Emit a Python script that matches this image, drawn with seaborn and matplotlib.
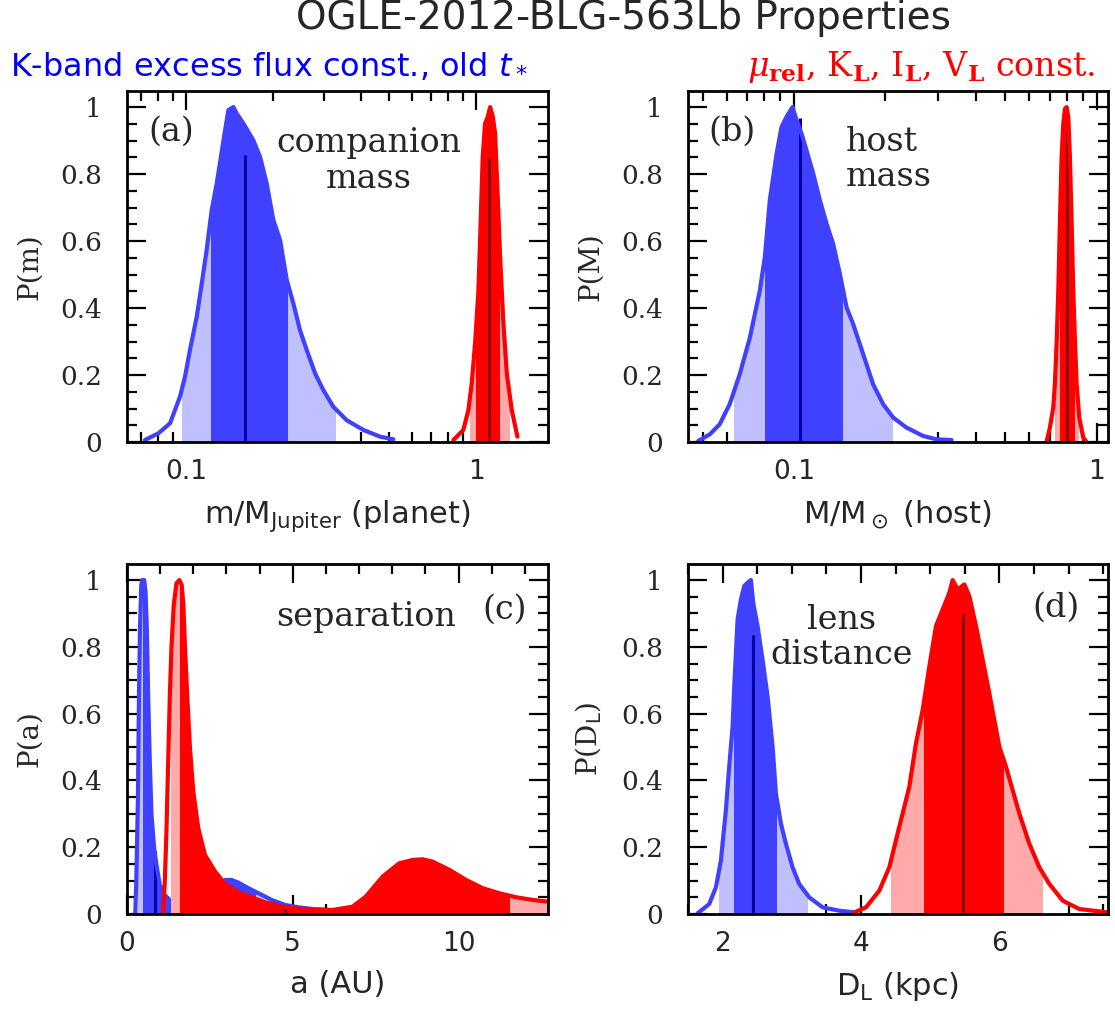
import matplotlib
matplotlib.use("Agg")
import matplotlib.pyplot as plt
import matplotlib.ticker as mticker
from matplotlib.patches import Rectangle
import pandas as pd
import seaborn as sns

# ---- panel (a): companion mass, m / M_Jupiter ----
a_blue_x = [0.0722, 0.0803, 0.0881, 0.0953, 0.0992, 0.1032, 0.1089, 0.1133, 0.1178,
            0.1226, 0.1276, 0.1309, 0.1344, 0.1400, 0.1457, 0.1495, 0.1577, 0.1706,
            0.1799, 0.1897, 0.2000, 0.2110, 0.2225, 0.2344, 0.2471, 0.2606, 0.2786,
            0.2974, 0.3221, 0.3581, 0.4086, 0.4664, 0.5185]
a_blue_y = [0.006, 0.026, 0.056, 0.135, 0.195, 0.275, 0.374, 0.473, 0.573, 0.692,
            0.772, 0.832, 0.897, 0.991, 1.0, 0.981, 0.951, 0.901, 0.852, 0.772,
            0.663, 0.603, 0.484, 0.414, 0.334, 0.275, 0.205, 0.155, 0.105, 0.065,
            0.036, 0.016, 0.008]
a_red_x = [0.835, 0.904, 0.941, 0.966, 0.992, 1.019, 1.032, 1.054, 1.074, 1.097,
           1.118, 1.142, 1.163, 1.185, 1.210, 1.242, 1.276, 1.327, 1.388]
a_red_y = [0.006, 0.036, 0.096, 0.175, 0.295, 0.454, 0.603, 0.852, 0.951, 0.971,
           1.0, 0.971, 0.921, 0.752, 0.553, 0.354, 0.205, 0.096, 0.016]

# ---- panel (b): host mass, M / M_sun ----
b_blue_x = [0.0483, 0.0528, 0.0569, 0.0614, 0.0663, 0.0716, 0.0772, 0.0802, 0.0833,
            0.0877, 0.0911, 0.0946, 0.0990, 0.1021, 0.1060, 0.1101, 0.1159, 0.1219,
            0.1282, 0.1348, 0.1419, 0.1493, 0.1570, 0.1652, 0.1738, 0.1828, 0.1972,
            0.2128, 0.2355, 0.2673, 0.2958, 0.3318]
b_blue_y = [0.003, 0.023, 0.053, 0.113, 0.203, 0.312, 0.452, 0.552, 0.722, 0.861,
            0.941, 0.971, 1.0, 0.961, 0.921, 0.871, 0.801, 0.722, 0.652, 0.592,
            0.502, 0.402, 0.352, 0.292, 0.232, 0.172, 0.113, 0.073, 0.043, 0.018,
            0.008, 0.006]
b_red_x = [0.684, 0.701, 0.719, 0.728, 0.738, 0.747, 0.756, 0.766, 0.776, 0.786,
           0.796, 0.806, 0.816, 0.827, 0.837, 0.848, 0.859, 0.876, 0.903, 0.922]
b_red_y = [0.003, 0.043, 0.103, 0.173, 0.302, 0.452, 0.651, 0.851, 0.951, 0.995,
           1.0, 0.970, 0.851, 0.651, 0.452, 0.302, 0.173, 0.073, 0.013, 0.003]

# ---- panel (c): separation, a (AU) ----
c_blue_x = [0.25, 0.28, 0.33, 0.36, 0.39, 0.43, 0.46, 0.52, 0.56, 0.60, 0.64, 0.69,
            0.74, 0.82, 0.89, 0.99, 1.14, 1.24, 1.32, 1.6, 2.0, 2.4, 2.76, 2.96,
            3.16, 3.36, 3.67, 3.97, 4.37, 4.78, 5.18, 5.69, 6.09, 7.0, 8.5, 10.0, 12.7]
c_blue_y = [0.002, 0.097, 0.347, 0.646, 0.846, 0.985, 1.0, 1.0, 0.965, 0.846, 0.646,
            0.446, 0.296, 0.196, 0.147, 0.087, 0.057, 0.047, 0.037, 0.030, 0.035,
            0.060, 0.092, 0.102, 0.102, 0.094, 0.077, 0.062, 0.042, 0.027, 0.020,
            0.014, 0.012, 0.008, 0.004, 0.002, 0.002]
c_red_x = [1.09, 1.14, 1.19, 1.24, 1.29, 1.34, 1.41, 1.49, 1.58, 1.65, 1.70, 1.75,
           1.82, 1.90, 2.00, 2.15, 2.35, 2.66, 2.96, 3.36, 4.17, 4.78, 5.18, 6.19,
           6.80, 7.20, 7.71, 8.21, 8.62, 8.92, 9.22, 9.73, 10.23, 10.74, 11.24,
           11.75, 12.25, 12.71]
c_red_y = [0.002, 0.097, 0.246, 0.446, 0.646, 0.796, 0.925, 0.990, 1.0, 0.985,
           0.925, 0.796, 0.646, 0.496, 0.366, 0.257, 0.177, 0.127, 0.090, 0.065,
           0.035, 0.020, 0.016, 0.012, 0.022, 0.052, 0.112, 0.152, 0.162, 0.164,
           0.157, 0.132, 0.102, 0.077, 0.062, 0.050, 0.042, 0.037]

# ---- panel (d): lens distance, D_L (kpc) ----
d_blue_x = [1.639, 1.807, 1.904, 1.976, 2.048, 2.096, 2.145, 2.169, 2.217, 2.265,
            2.313, 2.361, 2.410, 2.443, 2.506, 2.578, 2.651, 2.723, 2.771, 2.843,
            2.916, 3.012, 3.108, 3.253, 3.446, 3.687, 3.904]
d_blue_y = [0.002, 0.030, 0.080, 0.160, 0.311, 0.441, 0.561, 0.681, 0.882, 0.942,
            0.982, 0.992, 1.0, 0.932, 0.862, 0.762, 0.651, 0.501, 0.361, 0.271,
            0.210, 0.140, 0.090, 0.050, 0.020, 0.010, 0.005]
d_red_x = [3.904, 4.072, 4.265, 4.410, 4.554, 4.699, 4.795, 4.892, 4.988, 5.084,
           5.181, 5.277, 5.325, 5.398, 5.494, 5.566, 5.663, 5.759, 5.855, 6.000,
           6.096, 6.193, 6.289, 6.434, 6.578, 6.723, 6.916, 7.157, 7.566]
d_red_y = [0.005, 0.020, 0.070, 0.140, 0.261, 0.381, 0.511, 0.611, 0.741, 0.862,
           0.912, 0.962, 1.0, 0.972, 0.987, 0.952, 0.862, 0.762, 0.661, 0.501,
           0.441, 0.371, 0.301, 0.210, 0.140, 0.090, 0.040, 0.015, 0.005]

# credible intervals: 2-sigma (light) and 1-sigma (dark) ranges, median + height
a_blue_light = [(0.0969, 0.3262)]
a_blue_dark = [(0.122, 0.2236)]
a_blue_med = (0.1597, 0.857)
a_red_light = [(0.953, 1.303)]
a_red_dark = [(1.0, 1.197)]
a_red_med = (1.112, 0.847)

b_blue_light = [(0.0634, 0.2104)]
b_blue_dark = [(0.0802, 0.1444)]
b_blue_med = (0.1047, 0.966)
b_red_light = [(0.728, 0.870)]
b_red_dark = [(0.756, 0.841)]
b_red_med = (0.796, 0.931)

c_blue_light = [(0.33, 0.48), (3.87, 5.2)]
c_blue_dark = [(0.48, 3.87)]
c_blue_med = (0.84, 0.19)
c_red_light = [(1.34, 1.60), (11.52, 13.0)]
c_red_dark = [(1.60, 11.52)]
c_red_med = (4.77, 0.017)

d_blue_light = [(1.952, 3.214)]
d_blue_dark = [(2.169, 2.771)]
d_blue_med = (2.434, 0.837)
d_red_light = [(4.439, 6.617)]
d_red_dark = [(4.916, 6.058)]
d_red_med = (5.480, 0.897)

y_ticks = [0, 0.2, 0.4, 0.6, 0.8, 1]
y_tick_labels = ["0", "0.2", "0.4", "0.6", "0.8", "1"]

BLUE = dict(line="#4040ff", dark="#4040ff", light="#c0c0ff", med="#0000a8")
RED = dict(line="#ff0000", dark="#ff0000", light="#ffaaaa", med="#8b0000")

SANS = "DejaVu Sans"
SERIF = "DejaVu Serif"


def draw_dist(ax, x, y, light, dark, med, cols, z):
    # z keeps later curves (red) above earlier ones, all under the axis ticks
    df = pd.DataFrame({"x": x, "y": y})
    for spans, c in [(light, cols["light"]), (dark, cols["dark"])]:
        for lo, hi in spans:
            poly = ax.fill_between(df["x"], 0, df["y"], color=c, lw=0, zorder=z)
            clip = Rectangle((lo, 0), hi - lo, 2, transform=ax.transData)
            poly.set_clip_path(clip)
    ax.vlines(med[0], 0, med[1], color=cols["med"], lw=2.2, zorder=z + 0.05)
    sns.lineplot(data=df, x="x", y="y", ax=ax, color=cols["line"], lw=3,
                 estimator=None, sort=False, zorder=z + 0.1)


def style_axes(ax, xlabel, ylabel):
    ax.set_ylim(0, 1.048)
    ax.set_yticks(y_ticks, y_tick_labels, fontfamily=SERIF, fontsize=19)
    ax.yaxis.set_minor_locator(mticker.MultipleLocator(0.05))
    ax.tick_params(which="both", direction="in", top=True, right=True,
                   width=1.6, color="black")
    ax.tick_params(which="major", length=14)
    ax.tick_params(which="minor", length=7)
    ax.tick_params(axis="y", pad=18)
    ax.tick_params(axis="x", pad=12)
    for s in ax.spines.values():
        s.set_linewidth(2)
        s.set_color("black")
        s.set_zorder(5)
    ax.set_xlabel(xlabel, fontfamily=SANS, fontsize=22)
    ax.set_ylabel(ylabel, fontfamily=SERIF, fontsize=20)
    ax.xaxis.set_label_coords(0.5, -0.16)
    ax.yaxis.set_label_coords(-0.2, 0.5)
    ax.grid(False)


def main():
    sns.set_theme(style="ticks")
    plt.rcParams["font.family"] = [SANS]
    plt.rcParams["mathtext.fontset"] = "dejavusans"

    fig = plt.figure(figsize=(11.15, 10.11), dpi=100)
    ax_a = fig.add_axes([0.1139, 0.5628, 0.3776, 0.3472])
    ax_b = fig.add_axes([0.6170, 0.5628, 0.3767, 0.3472])
    ax_c = fig.add_axes([0.1139, 0.0959, 0.3776, 0.3462])
    ax_d = fig.add_axes([0.6170, 0.0959, 0.3767, 0.3462])

    # (a)
    ax_a.set_xscale("log")
    ax_a.set_xlim(0.0626, 1.77)
    draw_dist(ax_a, a_blue_x, a_blue_y, a_blue_light, a_blue_dark, a_blue_med, BLUE, 1.0)
    draw_dist(ax_a, a_red_x, a_red_y, a_red_light, a_red_dark, a_red_med, RED, 1.5)
    style_axes(ax_a, r"m/M$_\mathrm{Jupiter}$ (planet)", "P(m)")

    # (b)
    ax_b.set_xscale("log")
    ax_b.set_xlim(0.0447, 1.09)
    draw_dist(ax_b, b_blue_x, b_blue_y, b_blue_light, b_blue_dark, b_blue_med, BLUE, 1.0)
    draw_dist(ax_b, b_red_x, b_red_y, b_red_light, b_red_dark, b_red_med, RED, 1.5)
    style_axes(ax_b, r"M/M$_\odot$ (host)", "P(M)")

    for ax in (ax_a, ax_b):
        ax.set_xticks([0.1, 1], ["0.1", "1"], fontfamily=SANS, fontsize=19)
        ax.xaxis.set_minor_locator(mticker.LogLocator(subs=range(2, 10)))
        ax.xaxis.set_minor_formatter(mticker.NullFormatter())

    # (c)
    ax_c.set_xlim(0, 12.7)
    draw_dist(ax_c, c_blue_x, c_blue_y, c_blue_light, c_blue_dark, c_blue_med, BLUE, 1.0)
    draw_dist(ax_c, c_red_x, c_red_y, c_red_light, c_red_dark, c_red_med, RED, 1.5)
    style_axes(ax_c, "a (AU)", "P(a)")
    ax_c.set_xticks([0, 5, 10], ["0", "5", "10"], fontfamily=SANS, fontsize=19)
    ax_c.xaxis.set_minor_locator(mticker.MultipleLocator(1))

    # (d)
    ax_d.set_xlim(1.5, 7.57)
    draw_dist(ax_d, d_blue_x, d_blue_y, d_blue_light, d_blue_dark, d_blue_med, BLUE, 1.0)
    draw_dist(ax_d, d_red_x, d_red_y, d_red_light, d_red_dark, d_red_med, RED, 1.5)
    style_axes(ax_d, r"D$_\mathrm{L}$ (kpc)", r"P(D$_\mathrm{L}$)")
    ax_d.set_xticks([2, 4, 6], ["2", "4", "6"], fontfamily=SANS, fontsize=19)
    ax_d.xaxis.set_minor_locator(mticker.MultipleLocator(0.5))

    # panel annotations
    ann = dict(fontfamily=SERIF, fontsize=24, va="center", linespacing=1.15)
    ax_a.text(0.105, 0.883, "(a)", transform=ax_a.transAxes, ha="center", **ann)
    ax_a.text(0.574, 0.80, "companion\nmass", transform=ax_a.transAxes,
              ha="center", multialignment="center", **ann)
    ax_b.text(0.104, 0.884, "(b)", transform=ax_b.transAxes, ha="center", **ann)
    ax_b.text(0.377, 0.805, "host\nmass", transform=ax_b.transAxes,
              ha="left", multialignment="left", **ann)
    ax_c.text(0.567, 0.849, "separation", transform=ax_c.transAxes,
              ha="center", **ann)
    ax_c.text(0.898, 0.869, "(c)", transform=ax_c.transAxes, ha="center", **ann)
    ax_d.text(0.365, 0.79, "lens\ndistance", transform=ax_d.transAxes,
              ha="center", multialignment="center", **ann)
    ax_d.text(0.876, 0.874, "(d)", transform=ax_d.transAxes, ha="center", **ann)

    fig.text(0.559, 0.982, "OGLE-2012-BLG-563Lb Properties", ha="center",
             va="center", fontsize=28, fontfamily=SANS)
    fig.text(0.009, 0.934, r"K-band excess flux const., old $t_*$", ha="left",
             va="center", fontsize=23, color="#0000ff", fontfamily=SANS)
    fig.text(0.982, 0.934,
             r"$\mu_\mathbf{rel}$, K$_\mathbf{L}$, I$_\mathbf{L}$, V$_\mathbf{L}$ const.",
             ha="right", va="center", fontsize=24, color="#ff0000",
             fontfamily=SERIF, math_fontfamily="dejavuserif")

    fig.savefig("out.png", dpi=100)
    plt.close(fig)


if __name__ == "__main__":
    main()
